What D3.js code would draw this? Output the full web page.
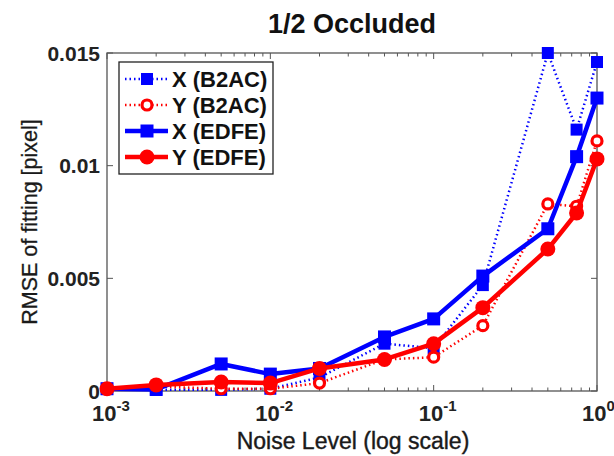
<!DOCTYPE html>
<html>
<head>
<meta charset="utf-8">
<script src="https://cdn.jsdelivr.net/npm/d3@7"></script>
<style>
  body { margin: 0; background: #fff; }
  text { font-family: "Liberation Sans", Arial, sans-serif; }
</style>
</head>
<body>
<script>
const width = 614;
const height = 456;
const marginTop = 53;
const marginRight = 17;
const marginBottom = 65;
const marginLeft = 107;

// noise levels and RMSE values
const noise = [0.001, 0.002, 0.005, 0.01, 0.02, 0.05, 0.1, 0.2, 0.5, 0.75, 1.0];
const xB2AC = [0.0001, 0.00005, 0.00005, 0.0001, 0.0006, 0.0021, 0.0019, 0.0047, 0.0150, 0.0116, 0.0146];
const yB2AC = [0.0001, 0.0002, 0.0001, 0.0001, 0.00035, 0.0014, 0.0015, 0.0029, 0.0083, 0.0082, 0.0111];
const xEDFE = [0.0001, 0.00007, 0.0012, 0.00075, 0.001, 0.0024, 0.0032, 0.0051, 0.0072, 0.0104, 0.0130];
const yEDFE = [0.0001, 0.00027, 0.0004, 0.00035, 0.001, 0.0014, 0.0021, 0.0037, 0.0063, 0.0079, 0.0103];

const yTicks = [0, 0.005, 0.01, 0.015];
const yTickLabels = ["0", "0.005", "0.01", "0.015"];
const xTicks = [1e-3, 1e-2, 1e-1, 1];
const xTickExp = ["-3", "-2", "-1", "0"];

const seriesNames = ["X (B2AC)", "Y (B2AC)", "X (EDFE)", "Y (EDFE)"];
const seriesValues = [xB2AC, yB2AC, xEDFE, yEDFE];
const seriesColor = ["#0000ff", "#ff0000", "#0000ff", "#ff0000"];
const seriesDotted = [true, true, false, false];
const seriesMarker = ["square", "circle", "square", "circle"];

const svg = d3.select("body").append("svg")
  .attr("width", width)
  .attr("height", height);

const x = d3.scaleLog()
  .domain([1e-3, 1])
  .range([marginLeft, width - marginRight]);

const y = d3.scaleLinear()
  .domain([0, 0.015])
  .range([height - marginBottom, marginTop]);

// minor ticks for log axis
const minor = [];
for (let e = -3; e < 0; e++) {
  for (let m = 2; m <= 9; m++) minor.push(m * Math.pow(10, e));
}

const axisColor = "#555";
const box = svg.append("g");
box.append("rect")
  .attr("x", x(1e-3)).attr("y", y(0.015))
  .attr("width", x(1) - x(1e-3)).attr("height", y(0) - y(0.015))
  .attr("fill", "none").attr("stroke", axisColor).attr("stroke-width", 1.3);

// x ticks bottom and top (inward)
[[y(0), -1], [y(0.015), 1]].forEach(([yy, dir]) => {
  box.selectAll(null).data(xTicks).enter().append("line")
    .attr("x1", d => x(d)).attr("x2", d => x(d))
    .attr("y1", yy).attr("y2", yy + dir * 6)
    .attr("stroke", axisColor);
  box.selectAll(null).data(minor).enter().append("line")
    .attr("x1", d => x(d)).attr("x2", d => x(d))
    .attr("y1", yy).attr("y2", yy + dir * 3.5)
    .attr("stroke", axisColor);
});
// y ticks left and right
[[x(1e-3), 1], [x(1), -1]].forEach(([xx, dir]) => {
  box.selectAll(null).data(yTicks).enter().append("line")
    .attr("y1", d => y(d)).attr("y2", d => y(d))
    .attr("x1", xx).attr("x2", xx + dir * 6)
    .attr("stroke", axisColor);
});

// y tick labels
svg.selectAll(".ylab").data(yTicks).enter().append("text")
  .attr("class", "ylab")
  .attr("x", x(1e-3) - 7)
  .attr("y", d => y(d) + 7.5)
  .attr("text-anchor", "end")
  .attr("font-size", 21)
  .attr("font-weight", "bold")
  .attr("fill", "#222")
  .text((d, i) => yTickLabels[i]);

// x tick labels 10^n
const xl = svg.selectAll(".xlab").data(xTicks).enter().append("text")
  .attr("class", "xlab")
  .attr("x", d => x(d) - 15)
  .attr("y", y(0) + 30)
  .attr("font-size", 22)
  .attr("font-weight", "bold")
  .attr("fill", "#222");
xl.append("tspan").text("10");
xl.append("tspan").attr("dy", -10).attr("font-size", 15).text((d, i) => xTickExp[i]);

// axis titles
svg.append("text")
  .attr("x", 353)
  .attr("y", height - 7)
  .attr("text-anchor", "middle")
  .attr("font-size", 23)
  .attr("fill", "#1a1a1a")
  .attr("stroke", "#1a1a1a")
  .attr("stroke-width", 0.4)
  .text("Noise Level (log scale)");

svg.append("text")
  .attr("transform", `translate(37,${(y(0) + y(0.015)) / 2}) rotate(-90)`)
  .attr("text-anchor", "middle")
  .attr("font-size", 21.5)
  .attr("fill", "#1a1a1a")
  .attr("stroke", "#1a1a1a")
  .attr("stroke-width", 0.3)
  .text("RMSE of fitting [pixel]");

svg.append("text")
  .attr("x", 352)
  .attr("y", 33)
  .attr("text-anchor", "middle")
  .attr("font-size", 27)
  .attr("font-weight", "bold")
  .attr("fill", "#111")
  .text("1/2 Occluded");

function drawMarker(g, kind, color, dotted, cx, cy) {
  if (kind === "square") {
    const s = dotted ? 12 : 13;
    g.append("rect")
      .attr("x", cx - s / 2).attr("y", cy - s / 2)
      .attr("width", s).attr("height", s)
      .attr("fill", color);
  } else if (dotted) {
    g.append("circle")
      .attr("cx", cx).attr("cy", cy).attr("r", 5)
      .attr("fill", "#fff").attr("stroke", color).attr("stroke-width", 3.2);
  } else {
    g.append("circle")
      .attr("cx", cx).attr("cy", cy).attr("r", 7.5)
      .attr("fill", color);
  }
}

const line = d3.line()
  .x(d => x(d[0]))
  .y(d => y(d[1]));

seriesValues.forEach((vals, k) => {
  const pts = noise.map((n, i) => [n, vals[i]]);
  const g = svg.append("g");
  g.append("path")
    .attr("d", line(pts))
    .attr("fill", "none")
    .attr("stroke", seriesColor[k])
    .attr("stroke-width", seriesDotted[k] ? 2.5 : 4.5)
    .attr("stroke-dasharray", seriesDotted[k] ? "1.5,3" : null)
    .attr("stroke-linejoin", "round");
  pts.forEach(p => drawMarker(g, seriesMarker[k], seriesColor[k], seriesDotted[k], x(p[0]), y(p[1])));
});

// legend
const lg = svg.append("g");
lg.append("rect")
  .attr("x", 119).attr("y", 62)
  .attr("width", 154).attr("height", 112)
  .attr("fill", "#fff").attr("stroke", "#222").attr("stroke-width", 1.3);
seriesNames.forEach((name, k) => {
  const ly = 79 + k * 26;
  lg.append("line")
    .attr("x1", 125).attr("x2", 168)
    .attr("y1", ly).attr("y2", ly)
    .attr("stroke", seriesColor[k])
    .attr("stroke-width", seriesDotted[k] ? 2.5 : 4.5)
    .attr("stroke-dasharray", seriesDotted[k] ? "1.5,3" : null);
  drawMarker(lg, seriesMarker[k], seriesColor[k], seriesDotted[k], 147, ly);
  lg.append("text")
    .attr("x", 172).attr("y", ly + 8)
    .attr("font-size", 22)
    .attr("font-weight", "bold")
    .attr("fill", "#111")
    .text(name);
});
</script>
</body>
</html>
